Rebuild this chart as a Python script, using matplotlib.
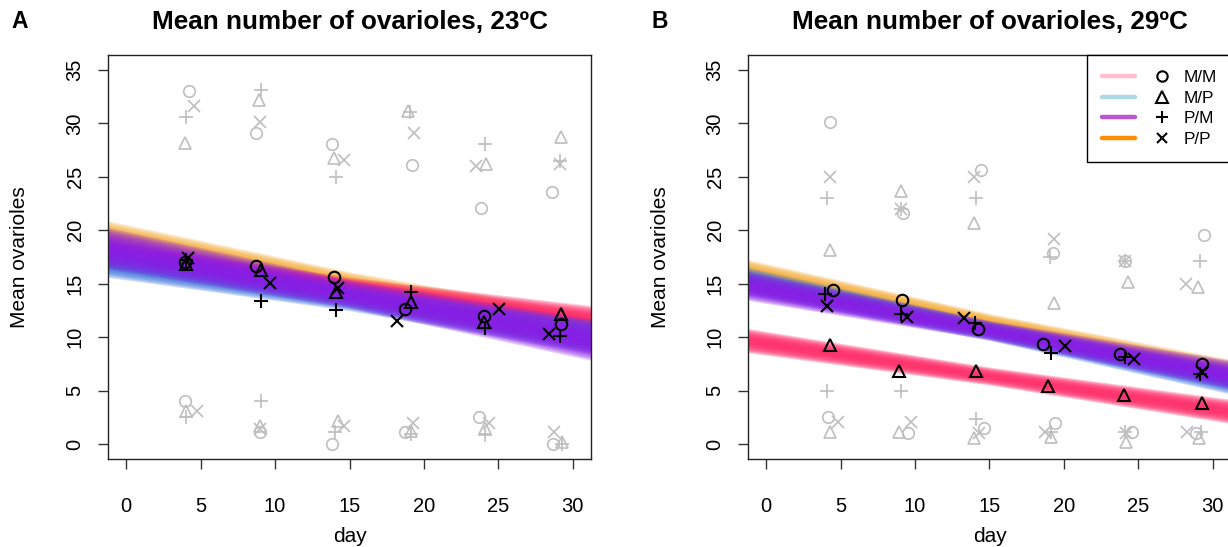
import numpy as np
import matplotlib
matplotlib.use("Agg")
import matplotlib.pyplot as plt
from matplotlib.lines import Line2D
from matplotlib.legend_handler import HandlerTuple

plt.rcParams['font.family'] = ['Liberation Sans', 'DejaVu Sans']

groups = ["M/M", "M/P", "P/M", "P/P"]
markers = ["o", "^", "+", "x"]
legend_colors = ["pink", "lightblue", "mediumorchid", "darkorange"]
band_colors = ["#f6ae3a", "#ff2d6a", "#3a72dc", "#8b1de6"]

# ---- 23 C ----
mean23_day = [[3.98, 8.74, 13.98, 18.7, 24.05, 29.2],
              [4.05, 9.06, 14.1, 19.1, 24.05, 29.2],
              [4.05, 9.08, 14.1, 19.1, 24.1, 29.15],
              [4.13, 9.67, 14.2, 18.2, 25.06, 28.37]]
mean23_val = [[17.0, 16.7, 15.6, 12.6, 11.95, 11.2],
              [16.8, 16.3, 14.25, 13.3, 11.45, 12.2],
              [17.2, 13.35, 12.5, 14.2, 10.9, 10.1],
              [17.4, 15.1, 14.56, 11.5, 12.6, 10.3]]
hi23_day = [[4.2, 8.74, 13.85, 19.2, 23.8, 28.6],
            [3.98, 8.95, 13.94, 18.9, 24.14, 29.2],
            [4.05, 9.08, 14.1, 19.04, 24.1, 29.15],
            [4.54, 8.99, 14.6, 19.3, 23.47, 29.15]]
hi23_val = [[33.0, 29.1, 28.06, 26.1, 22.1, 23.6],
            [28.2, 32.2, 26.75, 31.2, 26.2, 28.75],
            [30.56, 33.1, 25.0, 31.1, 28.06, 26.5],
            [31.6, 30.1, 26.6, 29.1, 26.0, 26.2]]
lo23_day = [[3.98, 8.99, 13.85, 18.75, 23.67, 28.67],
            [4.05, 8.99, 14.25, 19.1, 24.1, 29.3],
            [4.05, 9.08, 14.0, 19.1, 24.1, 29.3],
            [4.77, 8.99, 14.6, 19.26, 24.4, 28.75]]
lo23_val = [[4.05, 1.15, 0.05, 1.1, 2.55, 0.0],
            [3.05, 1.7, 2.2, 1.25, 1.5, 0.2],
            [2.5, 4.05, 1.1, 0.95, 0.87, 0.0],
            [3.05, 1.4, 1.7, 2.0, 2.0, 1.1]]
# fitted lines: value at day 0, value at day 30, half width at ends / middle
fit23_d0 = [19.0, 17.5, 16.9, 18.0]
fit23_d30 = [11.0, 11.9, 10.3, 10.1]
fit23_hw = [1.1, 0.9, 1.1, 1.35]
fit23_hwm = [0.8, 0.65, 0.8, 0.95]

# ---- 29 C ----
mean29_day = [[4.5, 9.1, 14.2, 18.6, 23.75, 29.27],
              [4.27, 8.92, 14.1, 18.9, 24.05, 29.3],
              [3.98, 9.06, 14.05, 19.1, 24.1, 29.15],
              [4.09, 9.49, 13.3, 20.05, 24.7, 29.27]]
mean29_val = [[14.4, 13.5, 10.75, 9.4, 8.4, 7.5],
              [9.3, 6.86, 6.86, 5.45, 4.6, 3.8],
              [14.0, 12.2, 11.3, 8.5, 8.1, 6.55],
              [12.95, 11.85, 11.75, 9.2, 8.0, 6.7]]
hi29_day = [[4.27, 9.22, 14.43, 19.26, 24.1, 29.4],
            [4.27, 9.06, 13.98, 19.3, 24.3, 29.0],
            [4.09, 9.06, 14.1, 19.04, 24.1, 29.15],
            [4.27, 9.06, 13.98, 19.33, 24.1, 28.2]]
hi29_val = [[30.1, 21.6, 25.6, 17.9, 17.1, 19.6],
            [18.2, 23.7, 20.7, 13.2, 15.2, 14.7],
            [23.0, 22.0, 23.0, 17.5, 17.1, 17.1],
            [25.0, 22.0, 25.0, 19.2, 17.1, 15.0]]
lo29_day = [[4.16, 9.55, 14.65, 19.37, 24.55, 28.9],
            [4.27, 8.92, 13.98, 19.1, 24.2, 29.1],
            [4.09, 9.08, 14.1, 19.1, 24.1, 29.2],
            [4.8, 9.7, 14.3, 18.75, 24.2, 28.25]]
lo29_val = [[2.55, 1.0, 1.5, 2.0, 1.1, 1.0],
            [1.15, 1.15, 0.56, 0.62, 0.15, 0.6],
            [5.0, 5.0, 2.3, 1.15, 1.1, 1.15],
            [2.1, 2.1, 1.0, 1.1, 1.0, 1.1]]
fit29_d0 = [15.7, 9.43, 14.9, 14.5]
fit29_d30 = [7.05, 3.3, 6.3, 6.8]
fit29_hw = [0.85, 0.8, 0.9, 0.95]
fit29_hwm = [0.6, 0.6, 0.65, 0.65]

msize = {"o": 8.3, "^": 9.3, "+": 10.0, "x": 8.0}
GREY = "#bebebe"

W, H = 1228, 547
fig = plt.figure(figsize=(W / 100, H / 100), dpi=100)
axw = 482.4 / W
axh = 404 / H
axA = fig.add_axes([108.3 / W, (H - 459) / H, axw, axh])
axB = fig.add_axes([748.3 / W, (H - 459) / H, axw, axh])


def draw_panel(ax, d0, d30, hw, hwm, hi_d, hi_v, lo_d, lo_v, m_d, m_v):
    xs = np.linspace(-1.5, 31.5, 120)
    for g in range(4):
        c = d0[g] + (d30[g] - d0[g]) * xs / 30
        w = hwm[g] + (hw[g] - hwm[g]) * np.abs(xs - 15) / 15
        for f in np.linspace(1.4, 0.3, 10):
            ax.fill_between(xs, c - f * w, c + f * w, color=band_colors[g],
                            alpha=0.26, lw=0)
    for g in range(4):
        mk = markers[g]
        ax.plot(hi_d[g], hi_v[g], ls="none", marker=mk, ms=msize[mk], mfc="none",
                mec=GREY, mew=1.2)
        ax.plot(lo_d[g], lo_v[g], ls="none", marker=mk, ms=msize[mk], mfc="none",
                mec=GREY, mew=1.2)
    for g in range(4):
        mk = markers[g]
        ax.plot(m_d[g], m_v[g], ls="none", marker=mk, ms=msize[mk], mfc="none",
                mec="black", mew=1.5)
    ax.set_xlim(-1.2, 31.2)
    ax.set_ylim(-1.4, 36.4)
    ax.set_xticks(range(0, 31, 5))
    ax.set_yticks(range(0, 36, 5))
    ax.tick_params(axis="both", direction="out", length=7.5, width=1.0,
                   labelsize=14.5, color="#333333")
    ax.tick_params(axis="x", pad=20)
    ax.tick_params(axis="y", pad=9.5)
    for lab in ax.get_yticklabels():
        lab.set_rotation(90)
        lab.set_va("center")
    for s in ax.spines.values():
        s.set_linewidth(1.0)
        s.set_color("#222222")


draw_panel(axA, fit23_d0, fit23_d30, fit23_hw, fit23_hwm,
           hi23_day, hi23_val, lo23_day, lo23_val, mean23_day, mean23_val)
draw_panel(axB, fit29_d0, fit29_d30, fit29_hw, fit29_hwm,
           hi29_day, hi29_val, lo29_day, lo29_val, mean29_day, mean29_val)

handles = []
for g in range(4):
    ln = Line2D([], [], color=legend_colors[g], lw=3.2, solid_capstyle="round")
    mk = Line2D([], [], ls="none", marker=markers[g], ms=msize[markers[g]] * 0.9,
                mfc="none", mec="black", mew=1.5)
    handles.append((ln, mk))
leg = axB.legend(handles, groups, loc="upper left",
                 bbox_to_anchor=((1087 - 748.3) / 482.4, 1.0),
                 handler_map={tuple: HandlerTuple(ndivide=2, pad=0.6)},
                 handlelength=4.45, handletextpad=0.32, labelspacing=0.32,
                 borderpad=0.9, fontsize=12.3, fancybox=False, framealpha=1,
                 edgecolor="black", borderaxespad=0)
leg.get_frame().set_linewidth(1.0)

for cx, letter, temp in [(349.5, "A", "23"), (989.5, "B", "29")]:
    fig.text(cx / W, 1 - 22 / H, "Mean number of ovarioles, " + temp + "ºC",
             ha="center", va="center", fontsize=18.8, fontweight="bold")
    fig.text(cx / W, 1 - 536 / H, "day", ha="center", va="center", fontsize=15)
fig.text(20 / W, 1 - 22 / H, "A", ha="center", va="center", fontsize=16.5, fontweight="bold")
fig.text(660 / W, 1 - 22 / H, "B", ha="center", va="center", fontsize=16.5, fontweight="bold")
for lx in [20, 660]:
    fig.text(lx / W, 1 - 257 / H, "Mean ovarioles", ha="center", va="center",
             rotation=90, fontsize=15)

fig.savefig("out.png", dpi=100)
